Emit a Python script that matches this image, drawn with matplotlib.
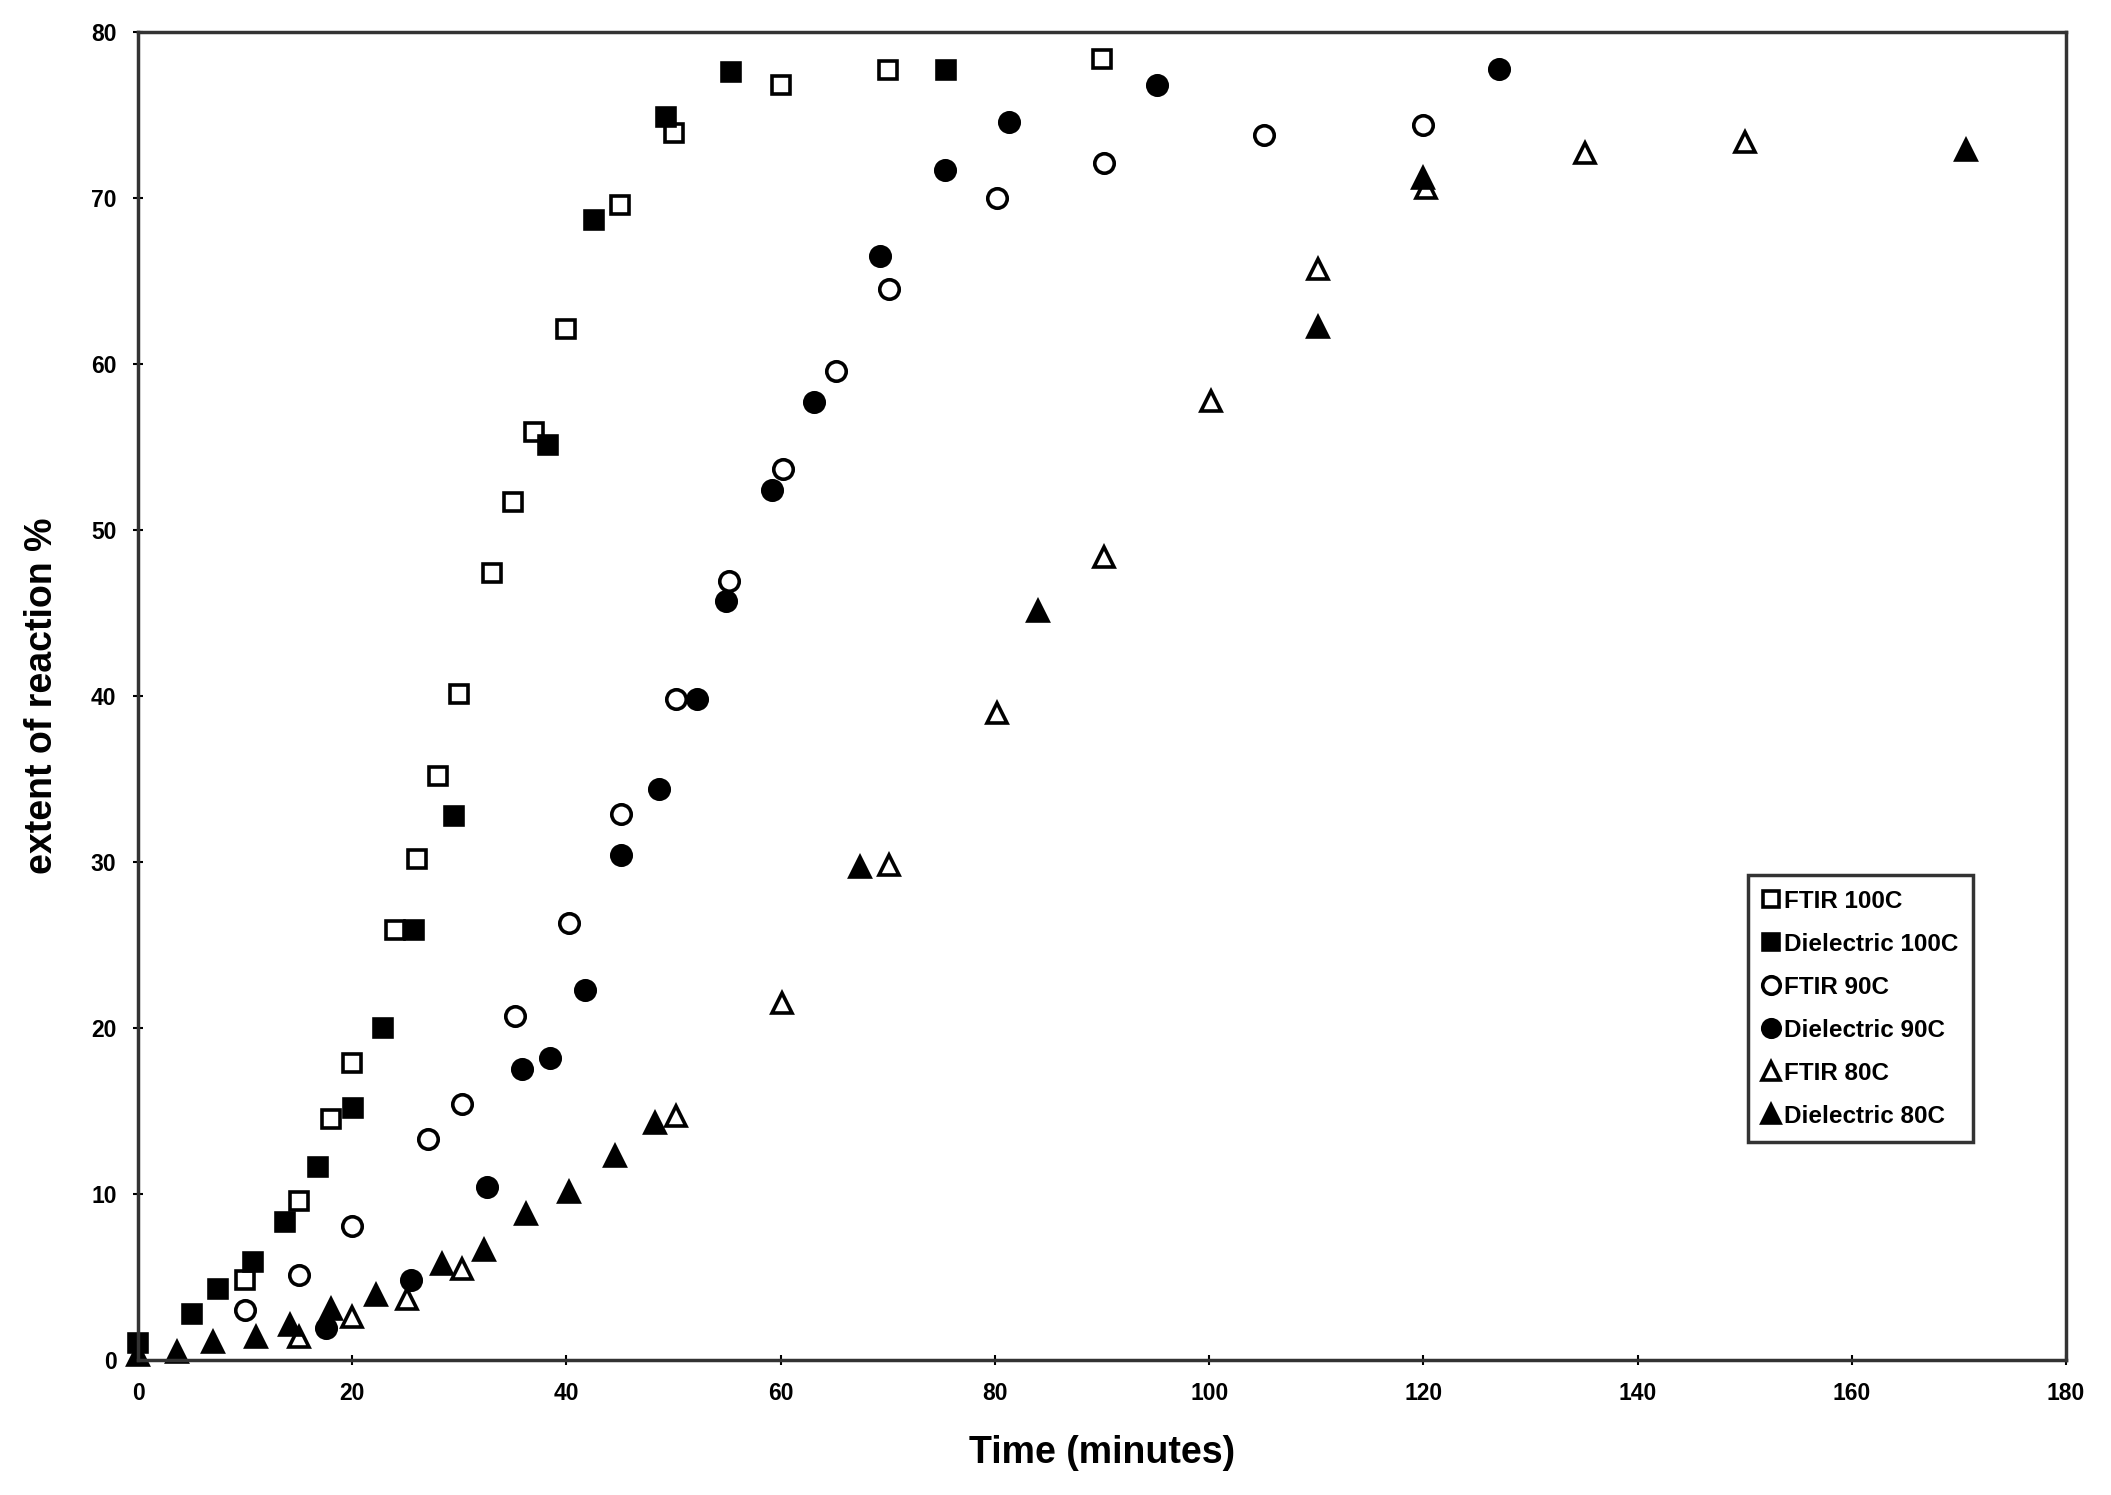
import matplotlib
matplotlib.use("Agg")
import matplotlib.pyplot as plt

plt.rcParams["font.family"] = ["Liberation Sans", "DejaVu Sans"]
plt.rcParams["font.weight"] = "bold"

# FTIR 100C (open squares)
ftir100_t = [10, 15, 18, 20, 24, 26, 28, 30, 33, 35, 37, 40, 45, 50, 60, 70, 90]
ftir100_y = [4.8, 9.6, 14.5, 17.9, 25.9, 30.2, 35.2, 40.1, 47.4, 51.7, 55.9,
             62.1, 69.6, 73.9, 76.8, 77.7, 78.4]

# Dielectric 100C (filled squares)
diel100_t = [0, 5, 7.5, 10.7, 13.7, 16.8, 20.1, 22.9, 25.8, 29.5, 38.3, 42.6,
             49.3, 55.4, 75.4]
diel100_y = [1.0, 2.8, 4.3, 5.9, 8.3, 11.6, 15.2, 20.0, 25.9, 32.8, 55.1, 68.7,
             74.9, 77.6, 77.7]

# FTIR 90C (open circles)
ftir90_t = [10, 15, 20, 27.1, 30.2, 35.2, 40.2, 45.1, 50.2, 55.2, 60.2, 65.2,
            70.1, 80.2, 90.2, 105.1, 120]
ftir90_y = [3.0, 5.1, 8.1, 13.3, 15.4, 20.7, 26.3, 32.9, 39.8, 46.9, 53.7,
            59.6, 64.5, 70.0, 72.1, 73.8, 74.4]

# Dielectric 90C (filled circles)
diel90_t = [17.5, 25.5, 32.6, 35.8, 38.5, 41.7, 45.1, 48.6, 52.2, 54.9, 59.2,
            63.1, 69.3, 75.3, 81.3, 95.1, 127.1]
diel90_y = [1.9, 4.8, 10.4, 17.5, 18.2, 22.3, 30.4, 34.4, 39.8, 45.7, 52.4,
            57.7, 66.5, 71.7, 74.6, 76.8, 77.8]

# FTIR 80C (open triangles)
ftir80_t = [15, 20, 25.1, 30.2, 50.2, 60.1, 70.1, 80.2, 90.2, 100.2, 110.2,
            120.2, 135.1, 150]
ftir80_y = [1.4, 2.6, 3.7, 5.5, 14.7, 21.5, 29.8, 39.0, 48.4, 57.8, 65.7,
            70.6, 72.7, 73.4]

# Dielectric 80C (filled triangles)
diel80_t = [0, 3.6, 7, 11, 14.2, 18, 22.2, 28.4, 32.3, 36.2, 40.2, 44.5, 48.3,
            67.4, 84, 110.2, 120, 170.7]
diel80_y = [0.3, 0.5, 1.1, 1.4, 2.1, 3.1, 3.9, 5.8, 6.6, 8.8, 10.1, 12.3, 14.3,
            29.7, 45.1, 62.2, 71.2, 72.9]

fig = plt.figure(figsize=(21.11, 14.95), dpi=100)
ax = fig.add_axes([0.0654, 0.0903, 0.9133, 0.8883])

ms = 13
common = dict(linestyle="none", clip_on=False, markeredgecolor="black",
              markeredgewidth=2.6)
ax.plot(ftir100_t, ftir100_y, marker="s", markersize=ms, markerfacecolor="white",
        label="FTIR 100C", **common)
ax.plot(diel100_t, diel100_y, marker="s", markersize=ms, markerfacecolor="black",
        label="Dielectric 100C", **common)
ax.plot(ftir90_t, ftir90_y, marker="o", markersize=ms + 1, markerfacecolor="white",
        label="FTIR 90C", **common)
ax.plot(diel90_t, diel90_y, marker="o", markersize=ms + 1, markerfacecolor="black",
        label="Dielectric 90C", **common)
ax.plot(ftir80_t, ftir80_y, marker="^", markersize=ms + 1, markerfacecolor="white",
        label="FTIR 80C", **common)
ax.plot(diel80_t, diel80_y, marker="^", markersize=ms + 1, markerfacecolor="black",
        label="Dielectric 80C", **common)

ax.set_xlim(0, 180)
ax.set_ylim(0, 80)
ax.set_xticks(range(0, 181, 20))
ax.set_yticks(range(0, 81, 10))
ax.tick_params(direction="inout", length=7, width=1.5, labelsize=16.5, pad=12)
for lab in ax.get_xticklabels() + ax.get_yticklabels():
    lab.set_fontweight("bold")
for sp in ax.spines.values():
    sp.set_linewidth(2.5)
    sp.set_color("#333333")

ax.set_xlabel("Time (minutes)", fontsize=27, fontweight="bold", labelpad=22)
ax.set_ylabel("extent of reaction %", fontsize=27, fontweight="bold", labelpad=22)

leg = ax.legend(loc="upper left", bbox_to_anchor=(0.835, 0.365), borderaxespad=0,
                fontsize=17.5, frameon=True, fancybox=False, shadow=False,
                handlelength=0.7, handletextpad=0.2, labelspacing=0.82,
                borderpad=0.6, markerscale=0.9)
leg.get_frame().set_edgecolor("black")
leg.get_frame().set_linewidth(2.5)
for t in leg.get_texts():
    t.set_fontweight("bold")

fig.savefig("out.png", dpi=100)
